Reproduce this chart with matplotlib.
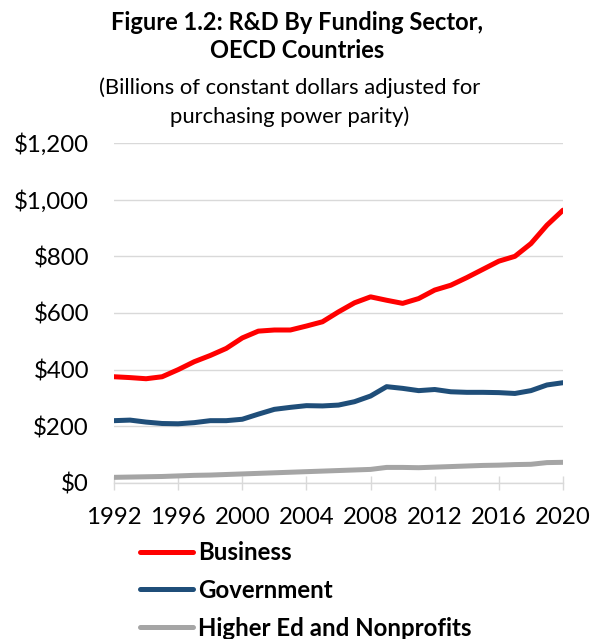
import matplotlib.pyplot as plt
from matplotlib.ticker import FuncFormatter

years = list(range(1992, 2021))
business = [375, 372, 368, 375, 400, 428, 450, 475, 512, 536, 540, 540, 554, 569, 604,
            636, 657, 645, 634, 651, 681, 698, 725, 754, 783, 800, 845, 910, 963]
government = [220, 222, 215, 210, 209, 213, 220, 220, 225, 243, 260, 267, 273, 272, 275,
              287, 307, 340, 334, 326, 330, 322, 320, 320, 319, 316, 326, 346, 354]
higher_ed = [20, 21, 22, 23, 25, 27, 28, 30, 32, 34, 36, 38, 40, 42, 44,
             46, 48, 55, 55, 54, 56, 58, 60, 62, 63, 65, 66, 72, 73]

series_names = ["Business", "Government", "Higher Ed and Nonprofits"]
colors = ["#FF0000", "#1F4E79", "#A5A5A5"]

plt.rcParams['font.family'] = ['Lato', 'DejaVu Sans']

fig = plt.figure(figsize=(5.91, 6.39), dpi=100)
ax = fig.add_axes([114 / 591, 1 - 483 / 639, (563 - 114) / 591, (483 - 143) / 639])

for vals, name, c in zip([business, government, higher_ed], series_names, colors):
    ax.plot(years, vals, color=c, linewidth=3.6, label=name, solid_capstyle='round')

ax.set_xlim(1992, 2020)
ax.set_ylim(0, 1200)
ax.set_xticks(range(1992, 2021, 4))
ax.set_yticks(range(0, 1201, 200))
ax.yaxis.set_major_formatter(FuncFormatter(lambda v, p: f"${v:,.0f}"))

ax.grid(axis='y', color='#D9D9D9', linewidth=1)
ax.set_axisbelow(True)
for s in ['top', 'right', 'left']:
    ax.spines[s].set_visible(False)
ax.spines['bottom'].set_color('#D9D9D9')
ax.spines['bottom'].set_linewidth(1)
ax.tick_params(axis='y', length=0, pad=18, labelsize=17.3)
ax.tick_params(axis='x', direction='inout', length=10, width=1, color='#D9D9D9',
               pad=12, labelsize=17.3)

fig.text(0.503, 0.965, "Figure 1.2: R&D By Funding Sector,", ha='center', va='center',
         fontsize=17, fontweight='bold')
fig.text(0.503, 0.921, "OECD Countries", ha='center', va='center',
         fontsize=17, fontweight='bold')
fig.text(0.49, 0.862, "(Billions of constant dollars adjusted for", ha='center', va='center',
         fontsize=15.8)
fig.text(0.49, 0.818, "purchasing power parity)", ha='center', va='center', fontsize=15.8)

leg = fig.legend(loc='upper left', bbox_to_anchor=(140 / 591, 1 - 541 / 639), frameon=False,
                 prop={'weight': 'bold', 'size': 17.3}, handlelength=2.2, handletextpad=0.2,
                 labelspacing=0.62, borderpad=0, borderaxespad=0)

fig.savefig("out.png", dpi=100)
